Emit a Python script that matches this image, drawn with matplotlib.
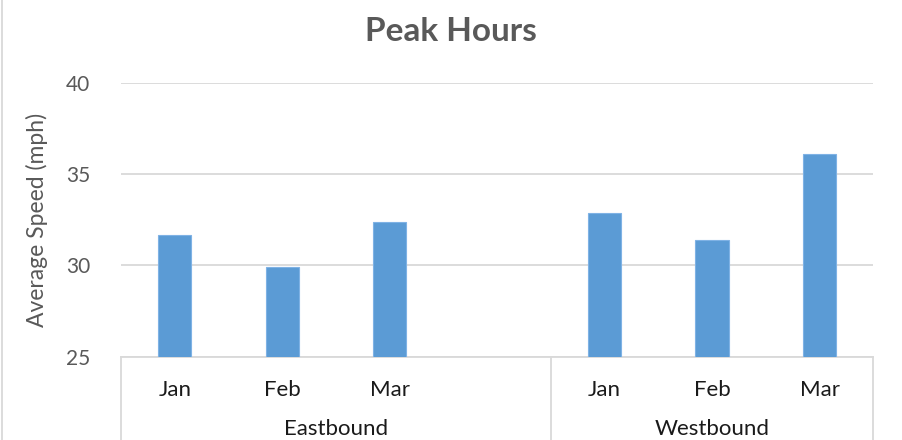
import numpy as np
import matplotlib
matplotlib.use("Agg")
import matplotlib.pyplot as plt
from matplotlib.lines import Line2D

plt.rcParams['font.family'] = ['Lato', 'DejaVu Sans']

# data
groups = ["Eastbound", "Westbound"]
east_months = ["Jan", "Feb", "Mar", ""]      # 4th slot is empty in the original
west_months = ["Jan", "Feb", "Mar"]
east_speed = [31.66, 29.89, 32.37, np.nan]
west_speed = [32.88, 31.40, 36.09]
yticks = [25, 30, 35, 40]

months = east_months + west_months
speeds = east_speed + west_speed
x = np.arange(len(months))

bar_col = '#5B9BD5'
grid_col = '#D9D9D9'
txt_col = '#595959'

fig = plt.figure(figsize=(9.02, 4.4), dpi=100)
ax = fig.add_axes([121 / 902, 1 - 356.7 / 440, 752.3 / 902, 273.7 / 440])

ax.bar(x, speeds, width=0.31, color=bar_col, edgecolor='#7FB2E5', linewidth=0.8,
       zorder=3)

ax.set_xlim(-0.5, len(months) - 0.5)
ax.set_ylim(25, 40)
ax.set_yticks(yticks)
ax.yaxis.grid(True, color=grid_col, linewidth=1.3, zorder=0)
ax.tick_params(axis='y', length=0, pad=22, labelsize=15, labelcolor=txt_col)
ax.set_xticks([])
for s in ['top', 'right', 'left']:
    ax.spines[s].set_visible(False)
ax.spines['bottom'].set_color(grid_col)
ax.spines['bottom'].set_linewidth(1.3)

ax.set_ylabel('Average Speed (mph)', fontsize=16.5, color=txt_col)
ax.yaxis.set_label_coords(-0.097, 0.5)

# two-level category axis box
trans = ax.get_xaxis_transform()
n_east = len(east_months)
for xv in [-0.5, n_east - 0.5, len(months) - 0.5]:
    ax.plot([xv, xv], [0, -0.5], transform=trans, color=grid_col, linewidth=1.3,
            clip_on=False)

for xi, m in zip(x, months):
    ax.text(xi, -0.144, m, transform=trans, ha='center', va='baseline',
            fontsize=16, color='#1a1a1a')

ax.text((n_east - 1) / 2, -0.299, groups[0], transform=trans, ha='center',
        va='bottom', fontsize=16, color='#1a1a1a')
ax.text(n_east + (len(west_months) - 1) / 2, -0.299, groups[1], transform=trans,
        ha='center', va='bottom', fontsize=16, color='#1a1a1a')

fig.text(451 / 902, 1 - 41 / 440, 'Peak Hours', ha='center', va='baseline',
         fontsize=24, fontweight='bold', color=txt_col)

# chart border on the left
fig.add_artist(Line2D([1.5 / 902, 1.5 / 902], [0, 1], color=grid_col, linewidth=1.3))

fig.savefig('out.png', dpi=100)
